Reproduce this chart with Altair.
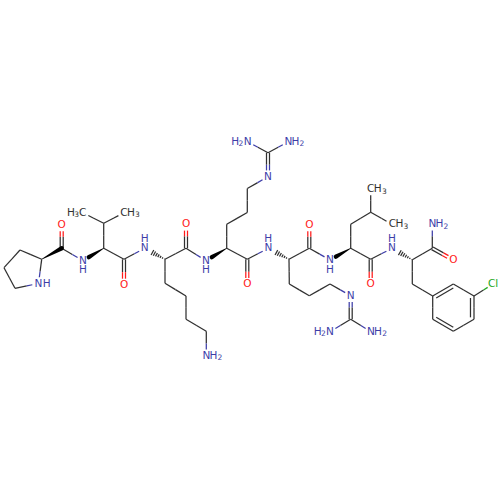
import altair as alt
import pandas as pd
import math

DARK = "#303030"
BLUE = "#3d3da8"
RED = "#ff1a1a"
GREEN = "#22a822"

# atoms: name -> pixel position
atoms = {
 "CA1":(41.7,259.3),"R1":(20,250),"R2":(4,267.7),"R3":(15,288.3),"N1":(38.5,283.5),
 "C1":(61.7,248.3),"O1":(61.7,225),"N2":(83,260.7),
 "CA2":(103.7,248.3),"CB2":(103.7,223.3),"ME1":(82.7,212.7),"ME2":(124,212.7),
 "C2":(124,259.3),"O2":(124,285),"N3":(144.7,248.3),
 "CA3":(165,259.3),"K1":(165,283.3),"K2":(186,296),"K3":(186,319.3),"K4":(206.3,331.3),"NZ":(206.3,355.7),
 "C3":(186,248.3),"O3":(186,224.3),"N4":(206,260.7),
 "CA4":(226.7,248.3),"A1":(226.7,224.3),"A2":(247.3,212.5),"A3":(247.3,188.5),"A4":(268,176.7),
 "A5":(268,152.7),"A6":(247.7,141.7),"A7":(288.3,141.7),
 "C4":(247.3,259.3),"O4":(247.3,284.3),"N5":(268.3,248.3),
 "CA5":(289,259.3),"B1":(289.3,284),"B2":(309.3,295.7),"B3":(330,284),"B4":(350.7,295.7),
 "B5":(350.7,319.3),"B6":(330,331.7),"B7":(371,331.7),
 "C5":(309.3,248.3),"O5":(309.3,225),"N6":(330,260),
 "CA6":(350.7,248.3),"L1":(350.7,224.3),"L2":(370.7,212.3),"L3":(370.7,189),"L4":(392,224.3),
 "C6":(370.7,259.3),"O6":(370.7,284.3),"N7":(392,248.3),
 "CA7":(412.3,259.7),"C7":(432.3,248.3),"N8":(432.3,224.3),"O7":(453.3,260),
 "CH":(412.3,284),"P1":(432.7,296),"P2":(453.3,284),"P3":(474,296),"P4":(474,319.3),"P5":(453.3,331.3),"P6":(432.7,319.3),
 "CL":(493,284),
}
single_bonds = [
 ("CA1","R1"),("R1","R2"),("R2","R3"),("R3","N1"),("N1","CA1"),
 ("C1","N2"),("CA2","CB2"),("CB2","ME1"),("CB2","ME2"),("CA2","C2"),("C2","N3"),
 ("CA3","K1"),("K1","K2"),("K2","K3"),("K3","K4"),("K4","NZ"),("CA3","C3"),("C3","N4"),
 ("CA4","A1"),("A1","A2"),("A2","A3"),("A3","A4"),("A5","A6"),("A5","A7"),("CA4","C4"),("C4","N5"),
 ("CA5","B1"),("B1","B2"),("B2","B3"),("B3","B4"),("B5","B6"),("B5","B7"),("CA5","C5"),("C5","N6"),
 ("CA6","L1"),("L1","L2"),("L2","L3"),("L2","L4"),("CA6","C6"),("C6","N7"),
 ("CA7","C7"),("C7","N8"),("CA7","CH"),("CH","P1"),("P1","P2"),("P2","P3"),("P3","P4"),("P4","P5"),("P5","P6"),("P6","P1"),("P3","CL"),
]
double_bonds = [("C1","O1"),("C2","O2"),("C3","O3"),("C4","O4"),("C5","O5"),("C6","O6"),("C7","O7"),("A4","A5"),("B4","B5")]
ring_inner = [("P1","P2"),("P3","P4"),("P5","P6")]
ring_centre = (453.3,307.7)
wedges = [("CA1","C1"),("CA2","N2"),("CA4","N4"),("CA6","N6")]
hashes = [("CA3","N3"),("CA5","N5"),("CA7","N7")]
# labels: text, x, y, colour, font size
labels = [
 ("N",38.5,283.5,BLUE,10.5),("H",46.7,283.5,BLUE,10.5),
 ("O",61.7,225,RED,10.5),("N",83,260.7,BLUE,10.5),("H",83,270.2,BLUE,10.5),
 ("H",71,212.7,DARK,10.5),("3",76.6,215.2,DARK,7.5),("C",82.7,212.7,DARK,10.5),
 ("C",124,212.7,DARK,10.5),("H",131,212.7,DARK,10.5),("3",137.4,215.2,DARK,7.5),
 ("O",124,285,RED,10.5),("N",144.7,248.3,BLUE,10.5),("H",144.7,238.8,BLUE,10.5),
 ("N",206.3,355.7,BLUE,10.5),("H",213.5,355.7,BLUE,10.5),("2",220,358.2,BLUE,7.5),
 ("O",186,224.3,RED,10.5),("N",206,260.7,BLUE,10.5),("H",206,270.2,BLUE,10.5),
 ("O",247.3,284.3,RED,10.5),("N",268.3,248.3,BLUE,10.5),("H",268.3,238.8,BLUE,10.5),
 ("N",268,176.7,BLUE,10.5),
 ("H",235.2,141.7,BLUE,10.5),("2",241,144.2,BLUE,7.5),("N",247.7,141.7,BLUE,10.5),
 ("N",288.3,141.7,BLUE,10.5),("H",295.4,141.7,BLUE,10.5),("2",302,144.2,BLUE,7.5),
 ("O",309.3,225,RED,10.5),("N",330,260,BLUE,10.5),("H",330,269.7,BLUE,10.5),
 ("N",350.7,295.7,BLUE,10.5),
 ("H",317.6,331.7,BLUE,10.5),("2",323.4,334.2,BLUE,7.5),("N",330,331.7,BLUE,10.5),
 ("N",371,331.7,BLUE,10.5),("H",378,331.7,BLUE,10.5),("2",384.6,334.2,BLUE,7.5),
 ("C",370.7,189,DARK,10.5),("H",377.8,189,DARK,10.5),("3",384.3,191.5,DARK,7.5),
 ("C",392.4,224.3,DARK,10.5),("H",399.5,224.3,DARK,10.5),("3",406,226.8,DARK,7.5),
 ("O",370.7,284.3,RED,10.5),("N",392,248.3,BLUE,10.5),("H",392,238.8,BLUE,10.5),
 ("N",432.3,224.3,BLUE,10.5),("H",439.4,224.3,BLUE,10.5),("2",446,226.8,BLUE,7.5),
 ("O",453.3,260,RED,10.5),("Cl",493,284,GREEN,10.5),
]

kind = {}
for n in atoms:
    kind[n] = "C"
for n in ["N1","N2","N3","N4","N5","N6","N7","N8","NZ","A4","A6","A7","B4","B6","B7"]:
    kind[n] = "N"
for n in ["O1","O2","O3","O4","O5","O6","O7"]:
    kind[n] = "O"
kind["CL"] = "Cl"
for n in ["ME1","ME2","L3","L4"]:
    kind[n] = "Me"
col = {"C":DARK,"Me":DARK,"N":BLUE,"O":RED,"Cl":GREEN}

def seg_parts(a, b, off=0.0):
    """Two-colour bond, shortened where it meets a text label."""
    ax, ay = atoms[a]; bx, by = atoms[b]
    L = math.hypot(bx-ax, by-ay)
    ux, uy = (bx-ax)/L, (by-ay)/L
    px, py = -uy*off, ux*off
    ta = 6.3 if kind[a] != "C" else 0
    tb = 6.3 if kind[b] != "C" else 0
    sx, sy = ax+ux*ta+px, ay+uy*ta+py
    ex, ey = bx-ux*tb+px, by-uy*tb+py
    mx, my = (ax+bx)/2+px, (ay+by)/2+py
    return [(sx,sy,mx,my,col[kind[a]]),(mx,my,ex,ey,col[kind[b]])]

rows = []
for a,b in single_bonds:
    rows += seg_parts(a,b)
for a,b in double_bonds:
    rows += seg_parts(a,b,1.5)+seg_parts(a,b,-1.5)
for a,b in ring_inner:
    ax,ay = atoms[a]; bx,by = atoms[b]
    f = 0.83
    ix0,iy0 = ring_centre[0]+(ax-ring_centre[0])*f, ring_centre[1]+(ay-ring_centre[1])*f
    ix1,iy1 = ring_centre[0]+(bx-ring_centre[0])*f, ring_centre[1]+(by-ring_centre[1])*f
    rows.append((ix0,iy0,ix1,iy1,DARK))
for a,b in hashes:
    ax,ay = atoms[a]; bx,by = atoms[b]
    L = math.hypot(bx-ax,by-ay); ux,uy=(bx-ax)/L,(by-ay)/L
    for i in range(7):
        d = 0.5+i*2.3
        hw = 0.3+i*0.42
        cx,cy = ax+ux*d, ay+uy*d
        rows.append((cx+uy*hw,cy-ux*hw,cx-uy*hw,cy+ux*hw,DARK))
bond_df = pd.DataFrame(rows,columns=["x","y","x2","y2","c"])

trail = []
for i,(a,b) in enumerate(wedges):
    ax,ay = atoms[a]; bx,by = atoms[b]
    L = math.hypot(bx-ax,by-ay); ux,uy=(bx-ax)/L,(by-ay)/L
    end = L-(6.8 if kind[b]!="C" else 0)
    trail.append((i,0,ax,ay,0.6))
    trail.append((i,1,ax+ux*end,ay+uy*end,4.4))
trail_df = pd.DataFrame(trail,columns=["id","o","x","y","w"])
label_df = pd.DataFrame(labels,columns=["t","x","y","c","s"])

xs = alt.Scale(domain=[0,500],nice=False,zero=False)
ys = alt.Scale(domain=[400,0],nice=False,zero=False)
X = alt.X("x:Q",scale=xs,axis=None)
Y = alt.Y("y:Q",scale=ys,axis=None)

bond_layer = alt.Chart(bond_df).mark_rule(strokeWidth=1.25).encode(
    x=X,y=Y,x2="x2:Q",y2="y2:Q",color=alt.Color("c:N",scale=None))
wedge_layer = alt.Chart(trail_df).mark_trail(color="#000000").encode(
    x=X,y=Y,detail="id:N",order="o:Q",size=alt.Size("w:Q",scale=None))
text_layer = alt.Chart(label_df).mark_text(font="DejaVu Sans",baseline="middle",align="center").encode(
    x=X,y=Y,text="t:N",color=alt.Color("c:N",scale=None),size=alt.Size("s:Q",scale=None))

chart = alt.layer(bond_layer,wedge_layer,text_layer).resolve_scale(
    color="independent",size="independent"
).properties(width=500,height=400,padding=0,autosize=alt.AutoSizeParams(type="none"),background="#ffffff").configure_view(stroke=None)
chart.save("out.html",embed_options={"renderer":"svg","actions":False,"defaultStyle":"html,body{margin:0!important;padding:0!important}"})
